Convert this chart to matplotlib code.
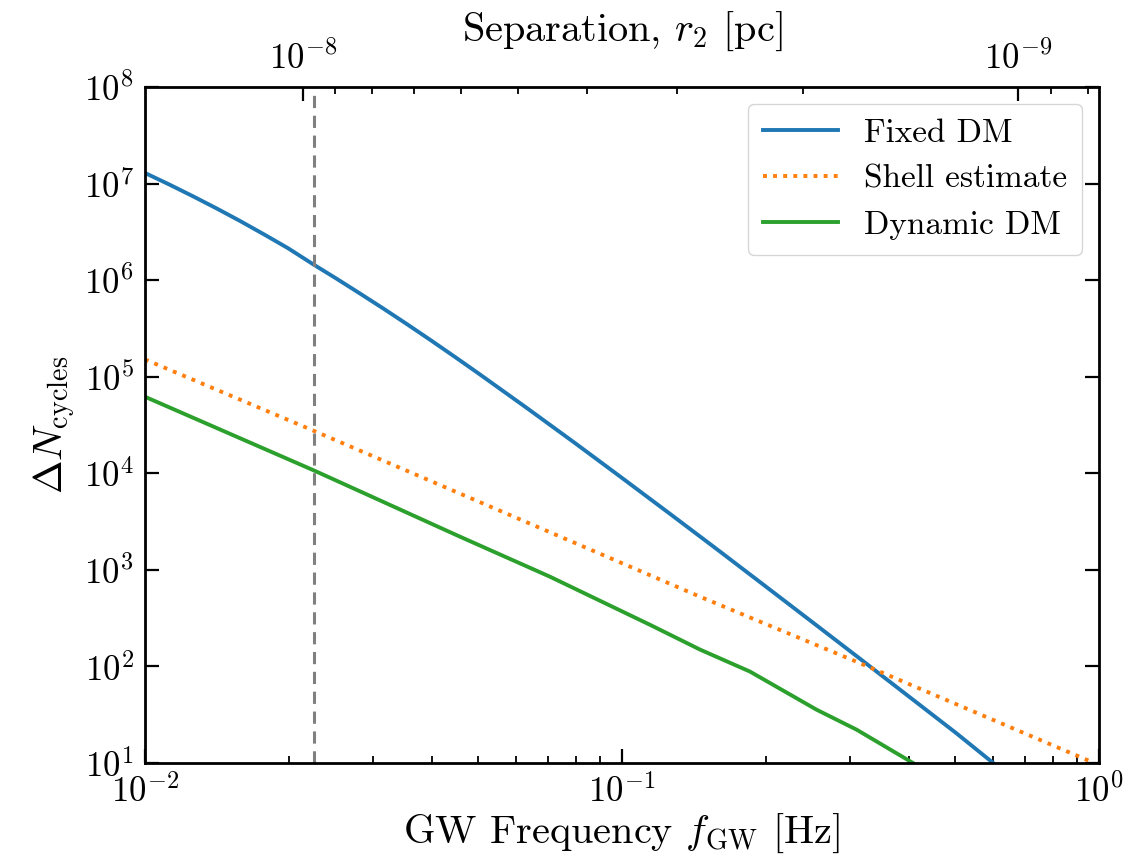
import numpy as np
import matplotlib
matplotlib.use("Agg")
import matplotlib.pyplot as plt
from matplotlib.ticker import LogLocator, NullLocator

plt.rcParams['font.family'] = 'serif'
plt.rcParams['font.serif'] = ['cmr10']
plt.rcParams['mathtext.fontset'] = 'cm'
plt.rcParams['axes.formatter.use_mathtext'] = True
plt.rcParams['axes.unicode_minus'] = True

# ---- data ----
f_fixed = [0.0100, 0.01122, 0.01259, 0.01413, 0.01585, 0.01778, 0.01995,
           0.02259, 0.02512, 0.02818, 0.03162, 0.03548, 0.03981, 0.04467,
           0.05012, 0.06310, 0.07943, 0.1000, 0.1259, 0.1585, 0.1995,
           0.2512, 0.3162, 0.3981, 0.5012, 0.6000]
N_fixed = [1.288e7, 9.83e6, 7.41e6, 5.53e6, 4.08e6, 2.97e6, 2.14e6,
           1.445e6, 1.047e6, 7.31e5, 5.07e5, 3.48e5, 2.37e5, 1.60e5,
           1.074e5, 4.76e4, 2.08e4, 8.95e3, 3.82e3, 1.62e3, 6.81e2,
           2.85e2, 1.19e2, 4.94e1, 2.05e1, 1.0e1]

f_shell = [0.0100, 0.0226, 0.146, 0.310, 0.977]
N_shell = [1.51e5, 2.75e4, 5.25e2, 1.12e2, 1.0e1]

f_dyn = [0.0100, 0.0226, 0.0457, 0.0706, 0.1146, 0.1459, 0.1854,
         0.2559, 0.3105, 0.4074]
N_dyn = [6.2e4, 1.07e4, 2.21e3, 8.5e2, 2.69e2, 1.49e2, 8.85e1,
         3.56e1, 2.21e1, 1.0e1]

f_marker = 0.0226              # vertical dashed line
f_ref, r_ref = 0.02141, 1e-8   # separation 1e-8 pc <-> f_GW

labels = ["Fixed DM", "Shell estimate", "Dynamic DM"]
colors = ["#1f77b4", "#ff7f0e", "#2ca02c"]

fig = plt.figure(figsize=(11.46, 8.63), dpi=100)
ax = fig.add_axes([0.1265, 0.1159, 0.8325, 0.7833])

ax.plot(f_fixed, N_fixed, color=colors[0], lw=2.8, label=labels[0])
ax.plot(f_shell, N_shell, color=colors[1], lw=2.8, ls=(0, (1, 1.6)), label=labels[1])
ax.plot(f_dyn, N_dyn, color=colors[2], lw=2.8, label=labels[2])
ax.axvline(f_marker, color='gray', ls='--', lw=2.2, dashes=(4, 2.5))

ax.set_xscale('log')
ax.set_yscale('log')
ax.set_xlim(1e-2, 1)
ax.set_ylim(1e1, 1e8)
ax.yaxis.set_major_locator(LogLocator(base=10, numticks=20))
ax.yaxis.set_minor_locator(NullLocator())

for s in ax.spines.values():
    s.set_linewidth(2.0)
ax.tick_params(which='major', direction='in', length=10, width=1.6,
               labelsize=25, right=True, pad=8)
ax.tick_params(which='minor', direction='in', length=5, width=1.3, right=True)

ax.set_xlabel(r"GW Frequency $f_{\rm GW}$ [Hz]", fontsize=29, labelpad=2)
ax.set_ylabel(r"$\Delta N_{\rm cycles}$", fontsize=29, labelpad=4)


def f2r(f):
    f = np.asarray(f, dtype=float)
    return r_ref * (np.clip(f, 1e-30, None) / f_ref) ** (-2.0 / 3.0)


def r2f(r):
    r = np.asarray(r, dtype=float)
    return f_ref * (np.clip(r, 1e-30, None) / r_ref) ** (-1.5)


sec = ax.secondary_xaxis('top', functions=(f2r, r2f))
sec.tick_params(which='major', direction='in', length=10, width=1.6, labelsize=25, pad=8)
sec.tick_params(which='minor', direction='in', length=5, width=1.3)
sec.set_xlabel(r"Separation, $r_2$ [pc]", fontsize=29, labelpad=0)

leg = ax.legend(loc='upper right', fontsize=24, handlelength=2.25,
                borderpad=0.45, labelspacing=0.5, handletextpad=0.8,
                fancybox=True, framealpha=0.8, edgecolor='0.8')

fig.savefig("out.png", dpi=100)
